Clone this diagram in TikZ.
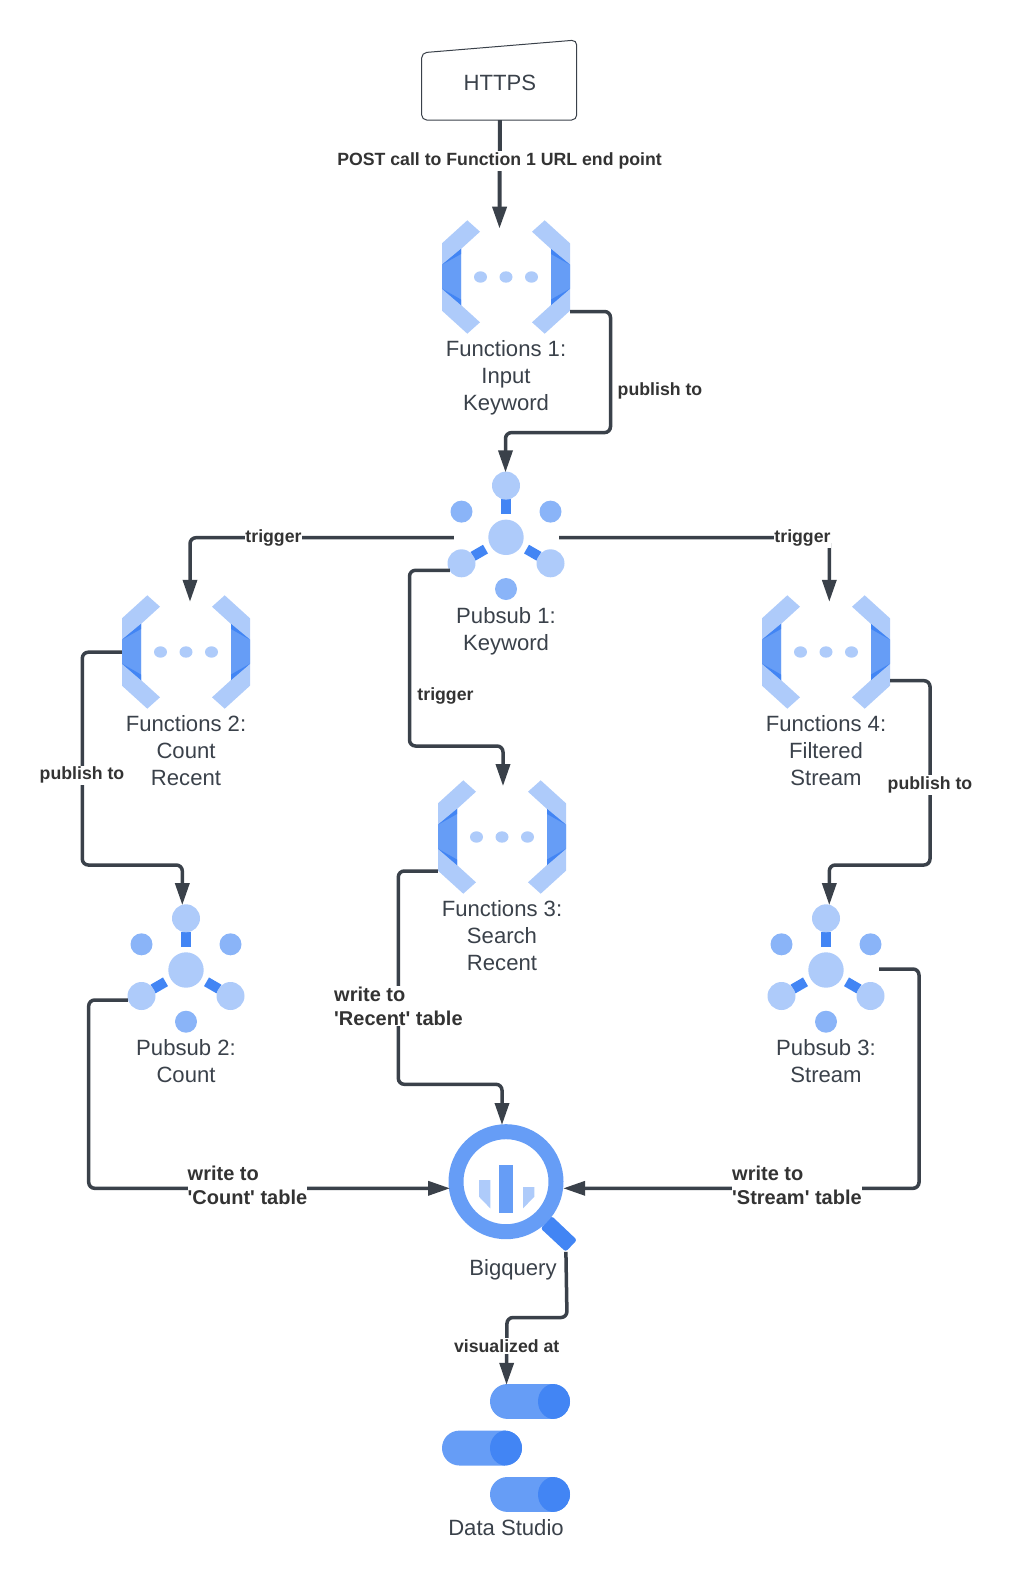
\documentclass[tikz,border=0pt]{standalone}
\usepackage{fontspec}
\setmainfont{Liberation Sans}[Ligatures=TeXOff]
\usetikzlibrary{calc,arrows.meta}
\definecolor{lineC}{HTML}{3A414A}
\definecolor{labelC}{HTML}{333333}
\definecolor{lightB}{HTML}{AECBFA}
\definecolor{midB}{HTML}{669DF6}
\definecolor{softB}{HTML}{8AB4F8}
\definecolor{darkB}{HTML}{4285F4}
\tikzset{
  x=1pt,y=-1pt,
  conn/.style={draw=lineC,line width=3.5pt,rounded corners=6pt,-{Triangle[length=22pt,width=14pt]}},
  name text/.style={text=lineC,align=center,font=\fontsize{22.1}{27}\selectfont,inner sep=0pt},
  edge text/.style={text=labelC,fill=white,font=\bfseries\fontsize{17.7}{21}\selectfont,inner xsep=0.5pt,inner ysep=1.5pt},
  edge big/.style={text=labelC,fill=white,align=left,font=\bfseries\fontsize{20}{24}\selectfont,inner xsep=0pt,inner ysep=1pt},
  fn box/.style={minimum width=128pt,minimum height=113.4pt,inner sep=0pt},
  ps box/.style={minimum width=117pt,minimum height=131.4pt,inner sep=0pt},
}
\newcommand{\myBracket}[1]{%
  \begin{scope}[xscale=#1]
    \fill[lightB] (-38.7,-56.7)--(-26,-45.3)--(-45,-28)--(-45,28)--(-26,45.3)--(-38.7,56.7)--(-64,33.7)--(-64,-33.7)--cycle;
    \fill[midB] (-45,-28)--(-64,-12.3)--(-64,11.7)--(-45,28)--cycle;
    \fill[darkB] (-45,-28)--(-64,-12.3)--(-45,-23)--cycle;
    \fill[darkB] (-45,28)--(-64,11.7)--(-45,22.5)--cycle;
  \end{scope}}
\newcommand{\myFn}[3]{%
  \node[fn box] (#1) at (#2,#3) {};
  \begin{scope}[shift={(#2,#3)}]
    \myBracket{1}\myBracket{-1}
    \foreach \dx in {-25.5,0,25.5}
      \fill[lightB] (\dx,0) ellipse [x radius=6.5pt,y radius=5.7pt];
  \end{scope}}
\newcommand{\myPs}[3]{%
  \node[ps box] (#1) at (#2,#3) {};
  \begin{scope}[shift={(#2,#3)}]
    \draw[darkB,line width=10pt] (0,-23.5)--(0,-38);
    \draw[darkB,line width=10pt] (-20.5,11.8)--(-33,19);
    \draw[darkB,line width=10pt] (20.5,11.8)--(33,19);
    \fill[lightB] (0,0) circle [radius=17.7pt];
    \fill[lightB] (0,-51.7) circle [radius=14pt];
    \fill[lightB] (-44.5,26) circle [radius=14pt];
    \fill[lightB] (44.5,26) circle [radius=14pt];
    \fill[softB] (-44.5,-25.7) circle [radius=11pt];
    \fill[softB] (44.5,-25.7) circle [radius=11pt];
    \fill[softB] (0,51.7) circle [radius=11pt];
  \end{scope}}
\newcommand{\myPill}[2]{%
  \begin{scope}[shift={(#1,#2)}]
    \fill[midB,rounded corners=17.4pt] (0,0) rectangle (80,34.9);
    \begin{scope}
      \clip[rounded corners=17.4pt] (0,0) rectangle (80,34.9);
      \fill[darkB] (64,17.45) ellipse [x radius=16pt,y radius=17.6pt];
    \end{scope}
  \end{scope}}
\begin{document}
\begin{tikzpicture}
\useasboundingbox (0,0) rectangle (1013,1580);
% HTTPS
\draw[lineC,line width=1pt,rounded corners=5pt] (421.7,52.8)--(576.7,40)--(576.7,120)--(421.7,120)--cycle;
\node[name text,minimum width=155pt,minimum height=74.6pt] (https) at (499.9,82.7) {HTTPS};
% Functions
\myFn{f1}{506}{277}
\myFn{f2}{186}{652}
\myFn{f3}{502}{837}
\myFn{f4}{826}{652}
\node[name text] (f1t) at (506,377.7) {Functions 1:\\Input\\Keyword};
\node[name text] (f2t) at (186,751) {Functions 2:\\Count\\Recent};
\node[name text] (f3t) at (502,936) {Functions 3:\\Search\\Recent};
\node[name text] (f4t) at (826,751) {Functions 4:\\Filtered\\Stream};
% Pubsub
\myPs{p1}{506}{537.3}
\myPs{p2}{186}{970}
\myPs{p3}{826}{970}
\node[name text] (p1t) at (506,631.5) {Pubsub 1:\\Keyword};
\node[name text] (p2t) at (186,1061) {Pubsub 2:\\Count};
\node[name text] (p3t) at (826,1061) {Pubsub 3:\\Stream};
% Bigquery
\node[minimum size=115pt,inner sep=0pt] (bq) at (506,1181.7) {};
\begin{scope}[shift={(506,1181.7)}]
  \fill[darkB,rounded corners=2.5pt] (45.7,34.3)--(71,58.3)--(59.7,70)--(34.7,46.7)--cycle;
  \fill[midB,even odd rule] (0,0) circle [radius=57.5pt] (0,0) circle [radius=42.5pt];
  \fill[midB] (-6.7,-16.7) rectangle (7,31.7);
  \fill[lightB] (-27,-1.7)--(-15.7,-1.7)--(-15.7,26.7)--(-27,15)--cycle;
  \fill[lightB] (17,5.3)--(28.3,5.3)--(28.3,15)--(17,26.7)--cycle;
\end{scope}
\node[name text] (bqt) at (513,1270) {Bigquery};
% Data Studio
\node[minimum width=128pt,minimum height=128pt,inner sep=0pt] (ds) at (506,1448) {};
\myPill{490}{1384}
\myPill{442}{1430.6}
\myPill{490}{1477}
\node[name text] (dst) at (506,1528) {Data Studio};
% connectors
\draw[conn,line width=4pt] (https.south) -- ($(f1.north)+(-6.5,8.5)$);
\draw[conn] ($(f1.east)+(0,34.5)$) -- (610.5,311.5) -- (610.5,432.6) -- (505.5,432.6) -- ($(p1.north)+(-0.5,1)$);
\draw[conn] ($(p1.west)+(6.5,0.4)$) -- (190,537.7) -- ($(f2.north)+(4,6.7)$);
\draw[conn] ($(p1.east)+(-5.5,0.4)$) -- (829.3,537.7) -- ($(f4.north)+(3.3,6.7)$);
\draw[conn] ($(p1.west)+(2.5,33)$) -- (409.5,570.3) -- (409.5,746) -- (503,746) -- ($(f3.north)+(1,6)$);
\draw[conn] ($(f2.west)+(0,0.2)$) -- (82.3,652.2) -- (82.3,865) -- (182.3,865) -- ($(p2.north)+(-3.7,1)$);
\draw[conn] ($(f4.east)+(0,28.7)$) -- (930,680.7) -- (930,865) -- (829.3,865) -- ($(p3.north)+(3.3,1)$);
\draw[conn] ($(f3.west)+(0,34)$) -- (398.3,871) -- (398.3,1084.3) -- (502,1084.3) -- ($(bq.north)+(-4,1)$);
\draw[conn] ($(p2.west)+(0.5,30)$) -- (88.7,1000) -- (88.7,1188.3) -- ($(bq.west)+(1.8,6.6)$);
\draw[conn] ($(p3.east)+(-5.5,-1)$) -- (919,969) -- (919,1188.3) -- ($(bq.east)+(-0.5,6.6)$);
\draw[conn] ($(bq.south east)+(2.2,12.5)$) -- (567,1317.5) -- (507,1317.5) -- ($(ds.north)+(0.5,1)$);
% labels
\node[edge text] (l1) at (499.5,161) {POST call to Function 1 URL end point};
\node[edge text,fill=none] (l2) at (660,391) {publish to};
\node[edge text] (l3) at (273.5,538) {trigger};
\node[edge text] (l4) at (802.5,538) {trigger};
\node[edge text,fill=none] (l5) at (445.5,695.5) {trigger};
\node[edge text] (l6) at (82,775.3) {publish to};
\node[edge text] (l7) at (930,785) {publish to};
\node[edge big,anchor=west] (l8) at (334,1006) {write to\\'Recent' table};
\node[edge big,anchor=west] (l9) at (187.5,1185) {write to\\'Count' table};
\node[edge big,anchor=west] (l10) at (732,1185) {write to\\'Stream' table};
\node[edge text] (l11) at (506.7,1345.7) {visualized at};
\end{tikzpicture}
\end{document}
